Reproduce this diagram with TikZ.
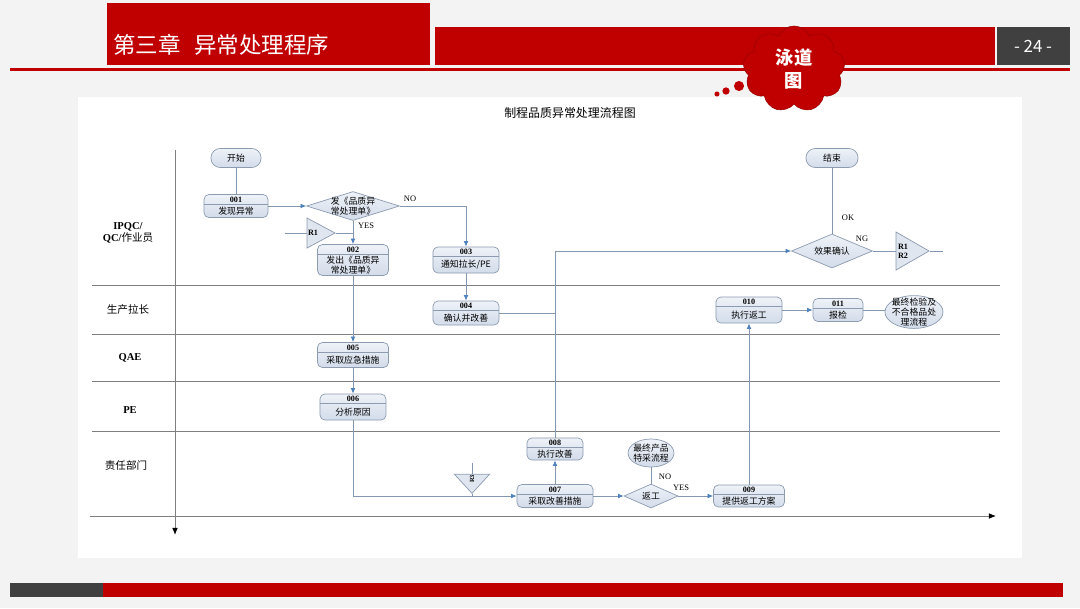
\documentclass[tikz,border=0pt]{standalone}
\usepackage{fontspec}
\setmainfont{Liberation Serif}
\newfontfamily\cjk{Noto Sans CJK SC}
\usetikzlibrary{arrows.meta,shapes.geometric,shapes.symbols,calc}
\definecolor{hongse}{HTML}{C00000}
\definecolor{shenhui}{HTML}{404040}
\definecolor{beijing}{HTML}{F3F3F3}
\definecolor{xiantiao}{HTML}{8497B0}
\definecolor{jiantou}{HTML}{4F81BD}
\definecolor{biankuang}{HTML}{8C9BB0}
\definecolor{kuangshang}{HTML}{EEF2F8}
\definecolor{kuangxia}{HTML}{D3DCEA}
\definecolor{yongdao}{HTML}{7F7F7F}
\newcommand{\xiaozi}{\fontsize{6.3}{7.4}\selectfont}
\newcommand{\stepbox}[6]{%
  \node[procbox,minimum width=#3cm,minimum height=#4cm] (#1) at (#2) {};
  \draw[sepline] ([yshift=-0.25cm]#1.north west) -- ([yshift=-0.25cm]#1.north east);
  \node[numtxt] (#1-num) at ([yshift=-0.13cm]#1.north) {#5};
  \node[boxtxt] (#1-txt) at ($([yshift=-0.25cm]#1.north)!0.5!(#1.south)$) {#6};
}

\begin{document}
\begin{tikzpicture}[x=0.025cm,y=-0.025cm,every node/.style={inner sep=0pt},
                    procbox/.style={draw=biankuang,line width=0.5pt,rounded corners=3.5pt,
                                    top color=kuangshang,bottom color=kuangxia},
                    sepline/.style={draw=biankuang,line width=0.4pt},
                    numtxt/.style={font=\fontsize{5.8}{6.5}\selectfont\bfseries},
                    boxtxt/.style={font=\cjk\xiaozi,align=center},
                    pill/.style={procbox,rounded corners=6.5pt,font=\cjk\xiaozi},
                    decision/.style={diamond,draw=biankuang,line width=0.5pt,
                                     top color=kuangshang,bottom color=kuangxia},
                    oval/.style={ellipse,draw=biankuang,line width=0.5pt,
                                 top color=kuangshang,bottom color=kuangxia},
                    tri/.style={isosceles triangle,isosceles triangle stretches,draw=biankuang,
                                line width=0.5pt,fill=kuangxia!70},
                    flow/.style={draw=xiantiao,line width=0.55pt},
                    arr/.style={flow,-{Latex[length=4pt,width=3.4pt,color=jiantou]}},
                    lane/.style={draw=yongdao,line width=0.6pt},
                    lbl/.style={font=\fontsize{6}{7}\selectfont},
                    lanetxt/.style={font=\fontsize{7.5}{9}\selectfont\bfseries,align=center}]
  \useasboundingbox (0,0) rectangle (1080,608);
  \fill[beijing] (0,0) rectangle (1080,608);
  \fill[white] (78,97) rectangle (1022,558);
  % header
  \fill[hongse] (107,3) rectangle (430,65);
  \node[anchor=west,text=white,font=\cjk\fontsize{16}{18}\selectfont] (zhangjie) at (113,45)
    {第三章\hspace{0.6em}异常处理程序};
  \fill[hongse] (435,27) rectangle (995,65);
  \fill[shenhui] (997,27) rectangle (1070,65);
  \node[text=white,font=\cjk\fontsize{12}{14}\selectfont] (yema) at (1033,46) {- 24 -};
  \fill[hongse] (10,68) rectangle (1070,71);
  \node[cloud,cloud puffs=9,cloud puff arc=130,fill=hongse,draw=hongse!80!black,
        minimum width=2.55cm,minimum height=2.15cm,text=white,align=center,
        font=\cjk\fontsize{13}{16}\selectfont\bfseries] (yun) at (794,69) {泳道\\图};
  \fill[hongse] (717,94) circle (1.8pt) (726,91) circle (2.6pt) (739,86) circle (3.6pt);
  \fill[shenhui] (10,583) rectangle (103,597);
  \fill[hongse] (103,583) rectangle (1063,597);
  \node[font=\cjk\fontsize{8.5}{10}\selectfont] (biaoti) at (570,113) {制程品质异常处理流程图};
  % lanes
  \foreach \ly in {285,334,381,431}
    \draw[lane] (92,\ly) -- (1000,\ly);
  \draw[lane,-{Latex[length=5pt,width=4pt,color=black]}] (90,516) -- (996,516);
  \draw[lane,-{Latex[length=5pt,width=4pt,color=black]}] (175,150) -- (175,535);
  \node[lanetxt] (l-ipqc) at (128,233) {IPQC/\\QC/{\cjk\mdseries 作业员}};
  \node[lanetxt,font=\cjk\fontsize{7.5}{9}\selectfont] (l-lazhang) at (128,309) {生产拉长};
  \node[lanetxt] (l-qae) at (130,358) {QAE};
  \node[lanetxt] (l-pe) at (130,410) {PE};
  \node[lanetxt,font=\cjk\fontsize{7.5}{9}\selectfont] (l-zeren) at (126,465) {责任部门};
  % nodes
  \node[pill,minimum width=1.25cm,minimum height=0.475cm] (kaishi) at (236,158) {开始};
  \node[pill,minimum width=1.3cm,minimum height=0.475cm] (jieshu) at (832,158) {结束};
  \stepbox{n001}{236,206}{1.6}{0.575}{001}{发现异常}
  \stepbox{n002}{353,260}{1.775}{0.775}{002}{发出《品质异\\常处理单》}
  \stepbox{n003}{466,260}{1.65}{0.65}{003}{通知拉长/PE}
  \stepbox{n004}{466,313}{1.65}{0.6}{004}{确认并改善}
  \stepbox{n005}{353,355}{1.775}{0.625}{005}{采取应急措施}
  \stepbox{n006}{353,407}{1.65}{0.65}{006}{分析原因}
  \stepbox{n007}{555,496}{1.9}{0.575}{007}{采取改善措施}
  \stepbox{n008}{555,449}{1.4}{0.55}{008}{执行改善}
  \stepbox{n009}{749,496}{1.775}{0.55}{009}{提供返工方案}
  \stepbox{n010}{749,310}{1.65}{0.65}{010}{执行返工}
  \stepbox{n011}{838,310}{1.25}{0.575}{011}{报检}
  \node[decision,minimum width=2.325cm,minimum height=0.725cm,
        label={[boxtxt]center:发《品质异\\常处理单》}] (dq) at (353,206) {};
  \node[decision,minimum width=2.025cm,minimum height=0.85cm,
        label={[boxtxt]center:效果确认}] (dok) at (832,251) {};
  \node[decision,minimum width=1.35cm,minimum height=0.6cm,
        label={[boxtxt]center:返工}] (rw) at (651,496) {};
  \node[oval,minimum width=1.15cm,minimum height=0.7cm,
        label={[boxtxt]center:最终产品\\特采流程}] (cte) at (651,453) {};
  \node[oval,minimum width=1.45cm,minimum height=0.82cm,
        label={[boxtxt]center:最终检验及\\不合格品处\\理流程}] (cfin) at (914,312) {};
  \node[tri,minimum width=0.75cm,minimum height=0.7cm] (tr1) at (316,233) {};
  \node[numtxt] (tr1-txt) at (313,233) {R1};
  \node[tri,minimum width=0.95cm,minimum height=0.825cm] (tr12) at (907,251) {};
  \node[numtxt,align=center] (tr12-txt) at (903,251) {R1\\R2};
  \node[tri,shape border rotate=270,minimum width=0.875cm,minimum height=0.475cm] (tr3) at (472,482) {};
  \node[numtxt,rotate=90,font=\fontsize{4.5}{5}\selectfont\bfseries] (tr3-txt) at (472,479) {R3};
  \coordinate (r1in) at (285,233);
  \coordinate (r1out) at (353,233);
  \coordinate (c3in) at (472,463);
  \coordinate (r12out) at (943,251);
  % connectors
  \draw[flow] (kaishi) -- (n001);
  \draw[arr] (n001) -- (dq);
  \draw[arr] (dq.east) -| (n003.north);
  \draw[arr] (dq.south) -- (n002.north);
  \draw[flow] (r1in) -- (tr1.lower side);
  \draw[flow] (tr1.apex) -- (r1out);
  \draw[arr] (n002) -- (n005);
  \draw[arr] (n005) -- (n006);
  \draw[arr] (n006.south) |- (n007.west);
  \draw[flow] (c3in) -- (tr3.lower side);
  \draw[flow] (tr3.apex) -- (tr3.apex |- n007.west);
  \draw[arr] (n003) -- (n004);
  \draw[flow] (n004.east) -- (n004.east -| n008.north);
  \draw[arr] (n007) -- (n008);
  \draw[arr] (n008.north) |- (dok.west);
  \draw[arr] (n007) -- (rw);
  \draw[flow] (rw) -- (cte);
  \draw[arr] (rw) -- (n009);
  \draw[arr] (n009) -- (n010);
  \draw[arr] (n010) -- (n011);
  \draw[flow] (n011.east) -- (n011.east -| cfin.west);
  \draw[flow] (dok) -- (jieshu);
  \draw[flow] (dok.east) -- (tr12.lower side);
  \draw[flow] (tr12.apex) -- (r12out);
  \node[lbl] (t-no1) at (410,199) {NO};
  \node[lbl] (t-yes1) at (366,226) {YES};
  \node[lbl] (t-ok) at (848,218) {OK};
  \node[lbl] (t-ng) at (862,239) {NG};
  \node[lbl] (t-no2) at (665,477) {NO};
  \node[lbl] (t-yes2) at (681,488) {YES};
\end{tikzpicture}
\end{document}
